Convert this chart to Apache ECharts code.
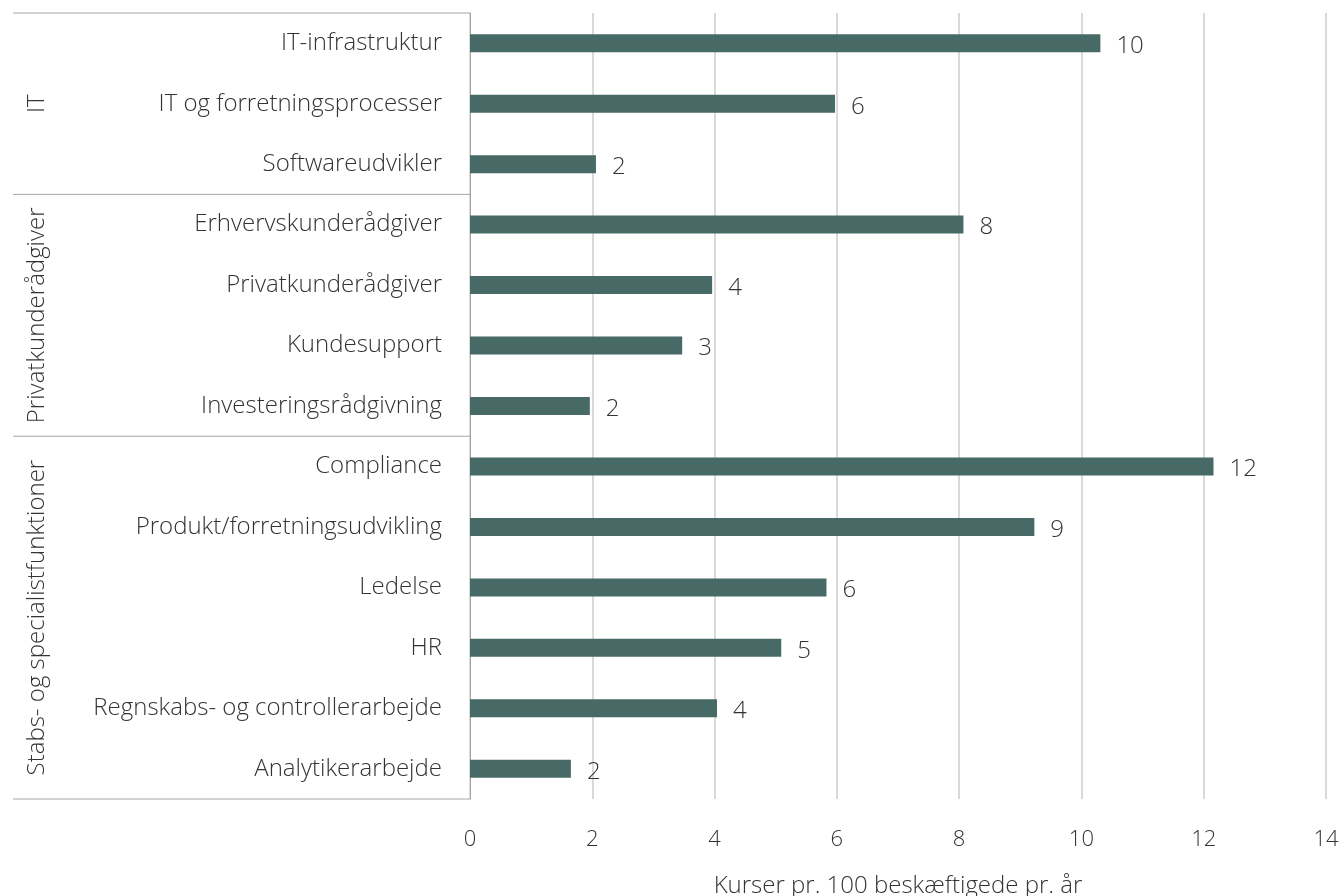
<!DOCTYPE html>
<html>
<head>
<meta charset="utf-8">
<script src="https://cdn.jsdelivr.net/npm/echarts@6/dist/echarts.min.js"></script>
<style>
  html, body { margin: 0; padding: 0; background: #fff; }
  #chart { width: 1341px; height: 896px; }
</style>
</head>
<body>
<div id="chart"></div>
<script>
const categories = [
  'IT-infrastruktur', 'IT og forretningsprocesser', 'Softwareudvikler',
  'Erhvervskunderådgiver', 'Privatkunderådgiver', 'Kundesupport', 'Investeringsrådgivning',
  'Compliance', 'Produkt/forretningsudvikling', 'Ledelse', 'HR',
  'Regnskabs- og controllerarbejde', 'Analytikerarbejde'
]
const values = [10.31, 5.97, 2.06, 8.07, 3.96, 3.47, 1.96, 12.16, 9.23, 5.83, 5.09, 4.04, 1.65]
// groups: name, first row, last row
const groupNames = ['IT', 'Privatkunderådgiver', 'Stabs- og specialistfunktioner']
const groupStart = [0, 3, 7]
const groupEnd = [2, 6, 12]
const xTicks = { min: 0, max: 14, interval: 2 }
const axisName = 'Kurser pr. 100 beskæftigede pr. år'

const FONT = '"Open Sans", "Noto Sans", sans-serif'
const TXT = '#333333'
const BAR = '#476a67'
const FS = 24

const chart = echarts.init(document.getElementById('chart'))

chart.setOption({
  animation: false,
  grid: { left: 470, right: 15, top: 13, bottom: 97, outerBoundsMode: 'none' },
  xAxis: {
    type: 'value',
    min: xTicks.min,
    max: xTicks.max,
    interval: xTicks.interval,
    axisLine: { show: false },
    axisTick: { show: false },
    axisLabel: { color: TXT, fontSize: 22, fontFamily: FONT, fontWeight: 300, margin: 30 },
    splitLine: { lineStyle: { color: '#d9d9d9', width: 2 } },
    name: axisName,
    nameLocation: 'middle',
    nameGap: 75,
    nameTextStyle: { color: TXT, fontSize: FS, fontFamily: FONT, fontWeight: 300 },
  },
  yAxis: {
    type: 'category',
    inverse: true,
    data: categories,
    axisLine: { lineStyle: { color: '#a6a6a6', width: 1 } },
    axisTick: { show: false },
    axisLabel: { color: TXT, fontSize: FS, fontFamily: FONT, fontWeight: 300, margin: 28 },
  },
  series: [
    {
      type: 'bar',
      data: values,
      barWidth: 18,
      itemStyle: { color: BAR },
      label: {
        show: true,
        position: 'right',
        distance: 16,
        offset: [0, 3],
        color: TXT,
        fontSize: FS,
        fontFamily: FONT,
        fontWeight: 300,
        formatter: (p) => Math.round(p.value),
      },
    },
  ],
})

// group separators and rotated group names, placed with the category scale
function drawGroups() {
  const c0 = chart.convertToPixel({ yAxisIndex: 0 }, 0)
  const c1 = chart.convertToPixel({ yAxisIndex: 0 }, 1)
  const band = c1 - c0
  const top = (i) => chart.convertToPixel({ yAxisIndex: 0 }, i) - band / 2
  const bottom = (i) => chart.convertToPixel({ yAxisIndex: 0 }, i) + band / 2
  const x0 = 13
  const x1 = chart.convertToPixel({ xAxisIndex: 0 }, 0)
  const elements = []
  const bounds = [top(0)]
  groupEnd.forEach((e) => bounds.push(bottom(e)))
  bounds.forEach((y) => {
    elements.push({
      type: 'line',
      shape: { x1: x0, y1: y, x2: x1, y2: y },
      style: { stroke: '#a6a6a6', lineWidth: 1 },
      silent: true,
    })
  })
  groupNames.forEach((name, i) => {
    const yc = (top(groupStart[i]) + bottom(groupEnd[i])) / 2
    elements.push({
      type: 'text',
      x: 37,
      y: yc,
      rotation: Math.PI / 2,
      style: {
        text: name,
        fill: TXT,
        font: '300 ' + FS + 'px ' + FONT,
        align: 'center',
        verticalAlign: 'middle',
      },
      silent: true,
    })
  })
  chart.setOption({ graphic: elements })
}
drawGroups()
</script>
</body>
</html>
